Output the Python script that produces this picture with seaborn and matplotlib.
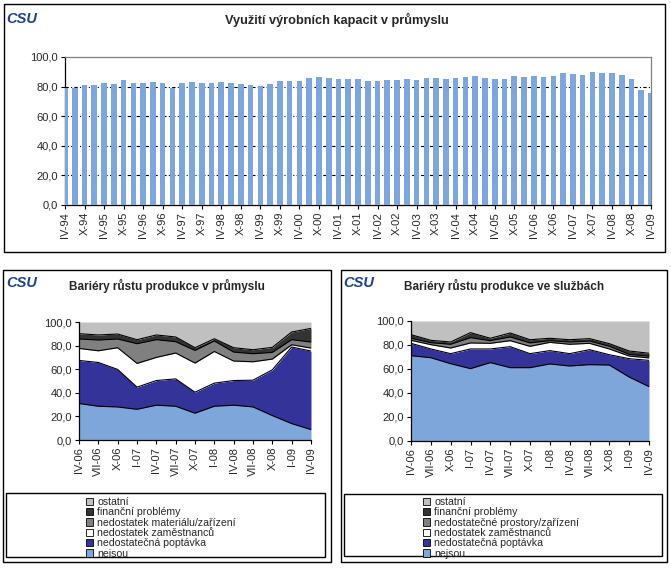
import matplotlib
matplotlib.use("Agg")
import matplotlib.pyplot as plt
import seaborn as sns
import numpy as np
import pandas as pd
from matplotlib.patches import Rectangle, Patch

# ---------------- data ----------------
# top chart: quarterly capacity utilisation IV-94 .. IV-09
quarter_names = ["I", "IV", "VII", "X"]
periods = [f"{q}-{y:02d}" for y in [94, 95, 96, 97, 98, 99, 0, 1, 2, 3, 4, 5, 6, 7, 8, 9]
           for q in quarter_names]
periods = periods[1:62]  # IV-94 .. IV-09
utilization = [79.3, 79.3, 80.9, 80.9, 82.7, 81.6, 84.7, 82.7, 82.7, 83.4,
               82.7, 79.3, 82.7, 83.4, 82.7, 82.7, 83.4, 82.7, 82.0, 80.9,
               80.2, 82.0, 84.0, 84.0, 84.0, 86.0, 86.7, 86.0, 85.4, 85.4,
               85.4, 84.0, 84.0, 84.7, 84.7, 85.4, 84.7, 86.0, 86.0, 85.4,
               86.0, 86.7, 87.4, 86.0, 85.4, 85.4, 87.4, 86.7, 87.4, 86.7,
               87.4, 89.5, 88.8, 88.1, 90.1, 89.5, 89.5, 88.1, 85.4, 77.5, 75.4]
top_tick_labels = ["IV-94", "X-94", "IV-95", "X-95", "IV-96", "X-96", "IV-97", "X-97",
                   "IV-98", "X-98", "IV-99", "X-99", "IV-00", "X-00", "IV-01", "X-01",
                   "IV-02", "X-02", "IV-03", "X-03", "IV-04", "X-04", "IV-05", "X-05",
                   "IV-06", "X-06", "IV-07", "X-07", "IV-08", "X-08", "IV-09"]

# bottom charts
months = ["IV-06", "VII-06", "X-06", "I-07", "IV-07", "VII-07", "X-07",
          "I-08", "IV-08", "VII-08", "X-08", "I-09", "IV-09"]

ind_neisou = [30.9, 28.6, 28.0, 26.0, 29.5, 28.6, 22.7, 28.6, 29.5, 28.0, 20.7, 13.9, 8.8]
ind_poptavka = [36.5, 37.1, 31.8, 18.8, 20.9, 23.2, 17.8, 19.6, 20.9, 22.7, 38.8, 64.9, 66.6]
ind_zamestnanci = [10.2, 9.9, 18.4, 20.1, 19.6, 21.9, 24.7, 26.8, 16.5, 15.6, 9.1, 1.9, 2.5]
ind_material = [8.0, 9.1, 7.4, 16.7, 15.0, 9.6, 10.7, 8.9, 7.6, 6.8, 5.6, 4.3, 5.1]
ind_financni = [4.5, 4.3, 4.2, 3.4, 4.0, 4.0, 2.3, 1.9, 3.7, 3.4, 4.3, 6.5, 11.6]
ind_ostatni = [9.9, 11.0, 10.2, 15.0, 11.0, 12.7, 21.8, 14.2, 21.8, 23.5, 21.5, 8.5, 5.4]

srv_neisou = [71.1, 69.4, 64.4, 60.3, 65.3, 61.1, 61.1, 64.2, 62.5, 63.6, 63.3, 53.3, 45.3]
srv_poptavka = [10.3, 7.3, 8.4, 16.4, 11.4, 17.5, 11.7, 11.1, 10.3, 12.5, 8.6, 15.3, 21.9]
srv_zamestnanci = [2.5, 3.6, 4.7, 5.0, 4.7, 5.0, 6.1, 6.9, 7.8, 5.3, 4.8, 2.2, 2.0]
srv_prostory = [1.7, 1.6, 3.1, 4.4, 2.2, 3.1, 2.8, 1.4, 1.9, 1.9, 2.2, 1.4, 1.4]
srv_financni = [3.0, 2.0, 1.9, 4.2, 2.0, 3.3, 2.7, 2.0, 1.9, 2.0, 2.2, 2.8, 2.5]
srv_ostatni = [11.4, 16.1, 17.5, 9.7, 14.4, 10.0, 15.6, 14.4, 15.6, 14.7, 18.9, 25.0, 26.9]

ind_labels = ["neisou", "nedostatečná poptávka", "nedostatek zaměstnanců",
              "nedostatek materiálu/zařízení", "finanční problémy", "ostatní"]
srv_labels = ["nejsou", "nedostatečná poptávka", "nedostatek zaměstnanců",
              "nedostatečné prostory/zařízení", "finanční problémy", "ostatní"]

titles = ["Využití výrobních kapacit v průmyslu",
          "Bariéry růstu produkce v průmyslu",
          "Bariéry růstu produkce ve službách"]

# ---------------- style ----------------
sns.set_theme(style="white")
plt.rcParams['font.family'] = ['Liberation Sans', 'DejaVu Sans']

BAR = "#7FA6DA"
AREA_COLORS = ["#7FA6DA", "#333399", "#FFFFFF", "#808080", "#333333", "#C0C0C0"]
LOGO = "#1F3F8F"

W, H = 671, 568
fig = plt.figure(figsize=(W / 100, H / 100), dpi=100)
fig.patch.set_facecolor("white")


def axes_px(l, t, r, b):
    return fig.add_axes([l / W, 1 - b / H, (r - l) / W, (b - t) / H])


def box_px(l, t, r, b, lw=1.0):
    fig.add_artist(Rectangle((l / W, 1 - b / H), (r - l) / W, (b - t) / H,
                             transform=fig.transFigure, fill=False,
                             edgecolor="black", linewidth=lw))


def fmt(v):
    return f"{v:.1f}".replace(".", ",")


def logo(x, y):
    fig.text(x / W, 1 - y / H, "CSU", fontsize=10.5, fontweight="bold",
             fontstyle="italic", color=LOGO, va="center", ha="left")


yt = [0, 20, 40, 60, 80, 100]

# ---------------- panel boxes ----------------
box_px(4, 4, 665, 252)
box_px(3, 270, 331, 562)
box_px(341, 270, 667, 562)
box_px(6, 493, 325, 557)
box_px(344, 494, 662, 556)

# ---------------- top bar chart ----------------
logo(6, 19)
fig.text(337 / W, 1 - 20 / H, titles[0], fontsize=9.2, fontweight="bold",
         ha="center", va="center")

ax1 = axes_px(65, 57, 651, 205)
df_top = pd.DataFrame({"obdobi": periods, "hodnota": utilization})
sns.barplot(data=df_top, x="obdobi", y="hodnota", color=BAR, saturation=1,
            width=0.58, ax=ax1, edgecolor="none", zorder=3)
ax1.set_xlim(0, len(periods) - 1)
ax1.set_ylim(0, 100)
for v in [20, 40, 60, 80]:
    ax1.axhline(v, color="black", lw=0.8, ls=(0, (3, 2, 1, 2)), zorder=1)
ax1.set_yticks(yt)
ax1.set_yticklabels([fmt(v) for v in yt], fontsize=8)
ax1.set_xticks(range(0, len(periods), 2))
ax1.set_xticklabels(top_tick_labels, rotation=90, fontsize=8)
ax1.set_xlabel("")
ax1.set_ylabel("")
for s in ["left", "bottom"]:
    ax1.spines[s].set_color("black")
    ax1.spines[s].set_linewidth(0.9)
for s in ["top", "right"]:
    ax1.spines[s].set_color("#808080")
    ax1.spines[s].set_linewidth(0.9)
ax1.tick_params(axis="both", direction="out", length=3, width=0.8, color="black",
                pad=2, bottom=True, left=True)


# ---------------- bottom area charts ----------------
def area_panel(rect, series, labels, title, tx, lx, ly, logo_x):
    logo(logo_x, 283)
    fig.text(tx / W, 1 - 286 / H, title, fontsize=8.5, fontweight="bold",
             ha="left", va="center")
    ax = axes_px(*rect)
    x = np.arange(len(months))
    ax.stackplot(x, *series, colors=AREA_COLORS, linewidth=0, zorder=2)
    cum = np.cumsum(np.array(series[:-1]), axis=0)
    for row in cum:
        sns.lineplot(x=x, y=row, color="black", lw=0.8, ax=ax, zorder=3)
    ax.set_xlim(0, len(months) - 1)
    ax.set_ylim(0, 100)
    ax.set_yticks(yt)
    ax.set_yticklabels([fmt(v) for v in yt], fontsize=8)
    ax.set_xticks(x)
    ax.set_xticklabels(months, rotation=90, fontsize=8)
    for s in ["top", "right"]:
        ax.spines[s].set_visible(False)
    for s in ["left", "bottom"]:
        ax.spines[s].set_color("black")
        ax.spines[s].set_linewidth(0.9)
    ax.tick_params(axis="both", direction="out", length=3, width=0.8,
                   color="black", pad=2, bottom=True, left=True)
    handles = [Patch(facecolor=c, edgecolor="black", linewidth=0.6)
               for c in AREA_COLORS][::-1]
    fig.legend(handles, labels[::-1], loc="upper left",
               bbox_to_anchor=(lx / W, 1 - ly / H), frameon=False,
               fontsize=7.6, handlelength=0.7, handleheight=0.7,
               handletextpad=0.35, labelspacing=0.03, borderpad=0,
               borderaxespad=0)
    return ax


area_panel((79, 322, 311, 440),
           [ind_neisou, ind_poptavka, ind_zamestnanci, ind_material, ind_financni, ind_ostatni],
           ind_labels, titles[1], 69, 86, 497, 6)
area_panel((411, 321, 649, 441),
           [srv_neisou, srv_poptavka, srv_zamestnanci, srv_prostory, srv_financni, srv_ostatni],
           srv_labels, titles[2], 404, 423, 497, 343)

fig.savefig("out.png", dpi=100, facecolor="white")
